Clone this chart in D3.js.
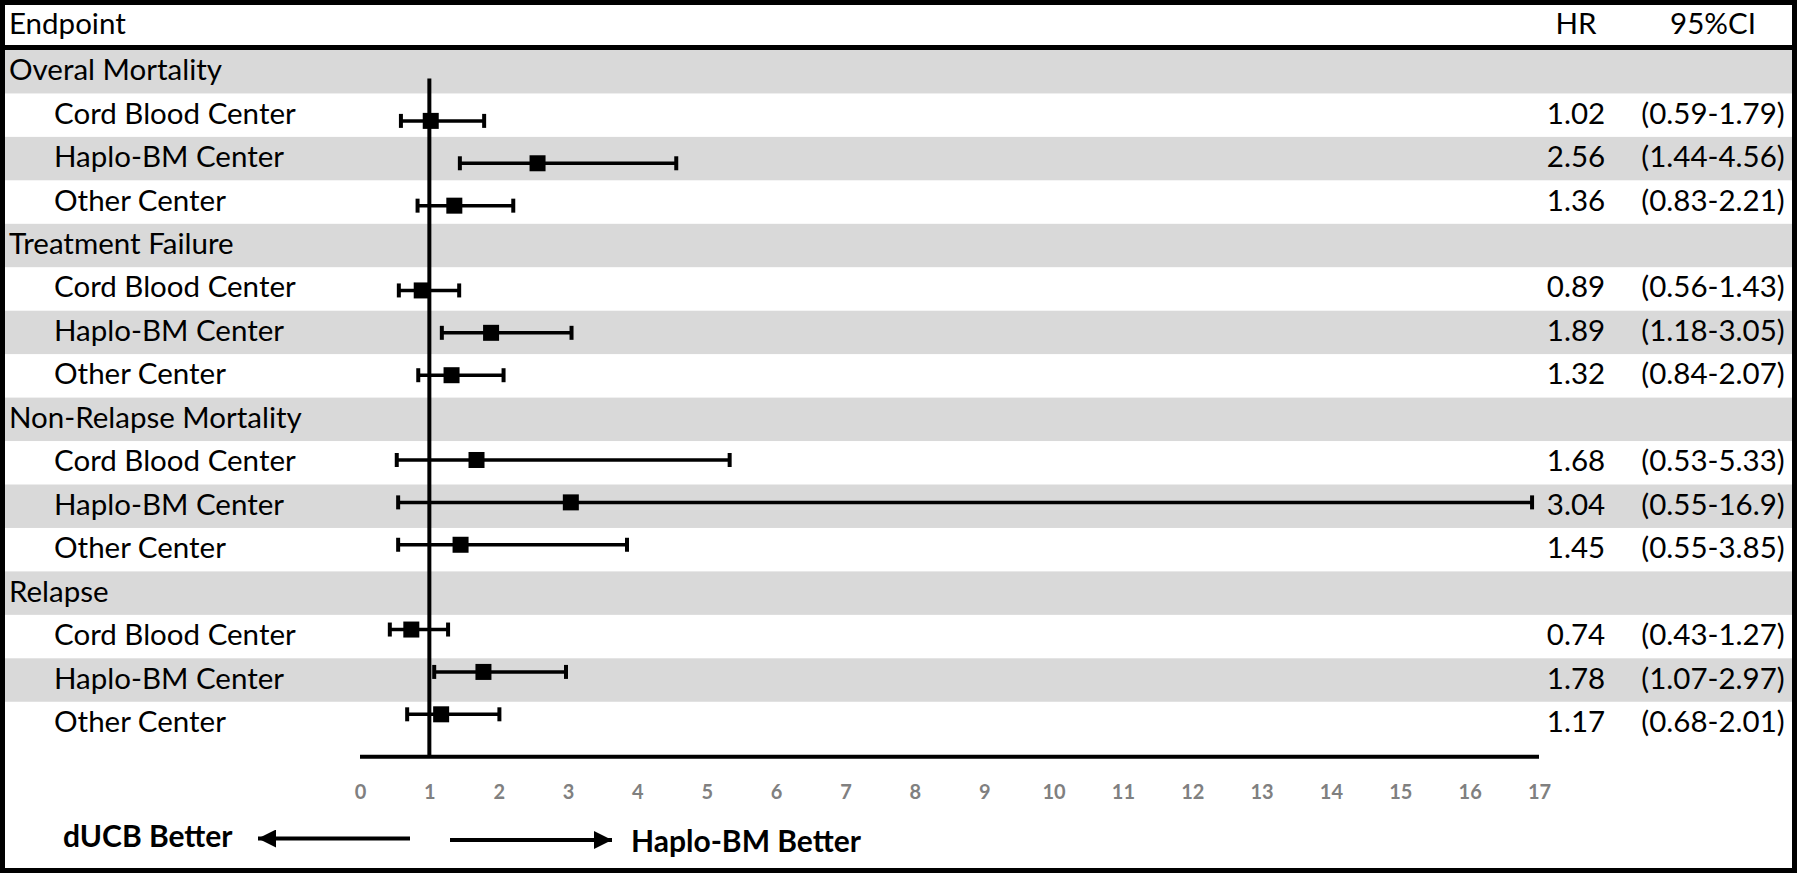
<!DOCTYPE html>
<html>
<head>
<meta charset="utf-8">
<script src="https://cdn.jsdelivr.net/npm/d3@7"></script>
<style>
  html, body { margin: 0; padding: 0; background: #fff; }
  svg { display: block; }
  text { font-family: Lato, "Open Sans", sans-serif; }
</style>
</head>
<body>
<svg id="chart" width="1800" height="875"></svg>
<script>
// ---------- data ----------
const categories = ["Overal Mortality", "Treatment Failure", "Non-Relapse Mortality", "Relapse"];
const centers = ["Cord Blood Center", "Haplo-BM Center", "Other Center"];
const hrOverall   = [1.02, 2.56, 1.36];
const loOverall   = [0.59, 1.44, 0.83];
const hiOverall   = [1.79, 4.56, 2.21];
const hrTF        = [0.89, 1.89, 1.32];
const loTF        = [0.56, 1.18, 0.84];
const hiTF        = [1.43, 3.05, 2.07];
const hrNRM       = [1.68, 3.04, 1.45];
const loNRM       = [0.53, 0.55, 0.55];
const hiNRM       = [5.33, 16.9, 3.85];
const hrRelapse   = [0.74, 1.78, 1.17];
const loRelapse   = [0.43, 1.07, 0.68];
const hiRelapse   = [1.27, 2.97, 2.01];
const xTicks = [0,1,2,3,4,5,6,7,8,9,10,11,12,13,14,15,16,17];
const headerLabels = ["Endpoint", "HR", "95%CI"];
const arrowLabels = ["dUCB Better", "Haplo-BM Better"];

const hrAll = [hrOverall, hrTF, hrNRM, hrRelapse];
const loAll = [loOverall, loTF, loNRM, loRelapse];
const hiAll = [hiOverall, hiTF, hiNRM, hiRelapse];

// build table rows
const rows = [];
categories.forEach((c, ci) => {
  rows.push({type: "cat", label: c});
  centers.forEach((s, si) => {
    rows.push({type: "sub", label: s, si, hr: hrAll[ci][si], lo: loAll[ci][si], hi: hiAll[ci][si]});
  });
});
rows.forEach((r, i) => r.i = i);

const fmt = v => v >= 10 ? v.toFixed(1) : v.toFixed(2);

// ---------- layout ----------
const W = 1800, H = 875;
const svg = d3.select("#chart");
const GRAY = "#d9d9d9";

const bandTop = 50, bandH = 43.45;
const rowY = d3.scaleBand().domain(d3.range(rows.length)).range([bandTop, bandTop + bandH * rows.length]).paddingInner(0).paddingOuter(0);

const x = d3.scaleLinear().domain([0, 17]).range([360, 1539]);
const yPlot = d3.scaleLinear().domain([0, rows.length]).range([78.5, 756.7]);

// bands
svg.append("g").selectAll("rect").data(rows).join("rect")
  .attr("x", 5).attr("width", 1787)
  .attr("y", d => rowY(d.i)).attr("height", rowY.bandwidth() + 0.5)
  .attr("fill", d => (d.type === "cat" || d.si === 1) ? GRAY : "#ffffff");

// labels
const FS = 29.5;
const baseY = d => rowY(d.i) + rowY.bandwidth() / 2 + 8.5;
svg.append("g").selectAll("text").data(rows).join("text")
  .attr("x", d => d.type === "cat" ? 9 : 54)
  .attr("y", baseY)
  .attr("font-size", FS).attr("fill", "#000")
  .text(d => d.label);

const subRows = rows.filter(r => r.type === "sub");
const hrX = 1576, ciX = 1713;
svg.append("g").selectAll("text").data(subRows).join("text")
  .attr("x", hrX).attr("text-anchor", "middle")
  .attr("y", baseY)
  .attr("font-size", FS).attr("fill", "#000")
  .text(d => fmt(d.hr));
svg.append("g").selectAll("text").data(subRows).join("text")
  .attr("x", ciX).attr("text-anchor", "middle")
  .attr("y", baseY)
  .attr("font-size", FS).attr("fill", "#000")
  .text(d => "(" + fmt(d.lo) + "-" + fmt(d.hi) + ")");

// header
svg.append("text").attr("x", 9).attr("y", 34).attr("font-size", FS).text(headerLabels[0]);
svg.append("text").attr("x", hrX).attr("y", 34).attr("text-anchor", "middle").attr("font-size", FS).text(headerLabels[1]);
svg.append("text").attr("x", ciX).attr("y", 34).attr("text-anchor", "middle").attr("font-size", FS).text(headerLabels[2]);
svg.append("line").attr("x1", 0).attr("x2", 1797).attr("y1", 47.5).attr("y2", 47.5)
  .attr("stroke", "#000").attr("stroke-width", 5);

// axis
const axisG = svg.append("g").attr("transform", `translate(0,${yPlot(rows.length)})`);
const axis = d3.axisBottom(x).tickValues(xTicks).tickSize(0).tickPadding(0).tickFormat(d3.format("d"));
axisG.call(axis);
axisG.select(".domain").attr("stroke", "#000").attr("stroke-width", 4).attr("d", `M${x(0)},0H${x(17)}`);
axisG.selectAll(".tick text")
  .attr("y", 42).attr("dy", null)
  .attr("font-size", 20).attr("font-weight", "bold").attr("fill", "#808080")
  .attr("font-family", "Lato, sans-serif");

// reference line at HR=1
svg.append("line").attr("x1", x(1)).attr("x2", x(1))
  .attr("y1", yPlot(0)).attr("y2", yPlot(rows.length))
  .attr("stroke", "#000").attr("stroke-width", 4);

// CIs
const ci = svg.append("g");
ci.selectAll("line.ci").data(subRows).join("line").attr("class", "ci")
  .attr("x1", d => x(d.lo)).attr("x2", d => x(d.hi))
  .attr("y1", d => yPlot(d.i)).attr("y2", d => yPlot(d.i))
  .attr("stroke", "#000").attr("stroke-width", 3.5);
ci.selectAll("line.capl").data(subRows).join("line").attr("class", "capl")
  .attr("x1", d => x(d.lo)).attr("x2", d => x(d.lo))
  .attr("y1", d => yPlot(d.i) - 7).attr("y2", d => yPlot(d.i) + 7)
  .attr("stroke", "#000").attr("stroke-width", 4);
ci.selectAll("line.caph").data(subRows).join("line").attr("class", "caph")
  .attr("x1", d => x(d.hi)).attr("x2", d => x(d.hi))
  .attr("y1", d => yPlot(d.i) - 7).attr("y2", d => yPlot(d.i) + 7)
  .attr("stroke", "#000").attr("stroke-width", 4);
const MS = 16;
ci.selectAll("rect").data(subRows).join("rect")
  .attr("x", d => x(d.hr) - MS / 2).attr("y", d => yPlot(d.i) - MS / 2)
  .attr("width", MS).attr("height", MS).attr("fill", "#000");

// direction arrows
const defs = svg.append("defs");
defs.append("marker").attr("id", "ah").attr("viewBox", "0 0 10 10")
  .attr("refX", 10).attr("refY", 5).attr("markerWidth", 5).attr("markerHeight", 4.5)
  .attr("markerUnits", "strokeWidth").attr("orient", "auto")
  .append("path").attr("d", "M0,0L10,5L0,10Z").attr("fill", "#000");
svg.append("line").attr("x1", 410).attr("x2", 258).attr("y1", 838.5).attr("y2", 838.5)
  .attr("stroke", "#000").attr("stroke-width", 4).attr("marker-end", "url(#ah)");
svg.append("line").attr("x1", 450).attr("x2", 612).attr("y1", 840).attr("y2", 840)
  .attr("stroke", "#000").attr("stroke-width", 4).attr("marker-end", "url(#ah)");
svg.append("text").attr("x", 63).attr("y", 847).attr("font-size", 30).attr("font-weight", "bold").text(arrowLabels[0]);
svg.append("text").attr("x", 631).attr("y", 852).attr("font-size", 30).attr("font-weight", "bold").text(arrowLabels[1]);

// outer border
svg.append("rect").attr("x", 2.5).attr("y", 2.5).attr("width", 1792).attr("height", 868)
  .attr("fill", "none").attr("stroke", "#000").attr("stroke-width", 5);
</script>
</body>
</html>
